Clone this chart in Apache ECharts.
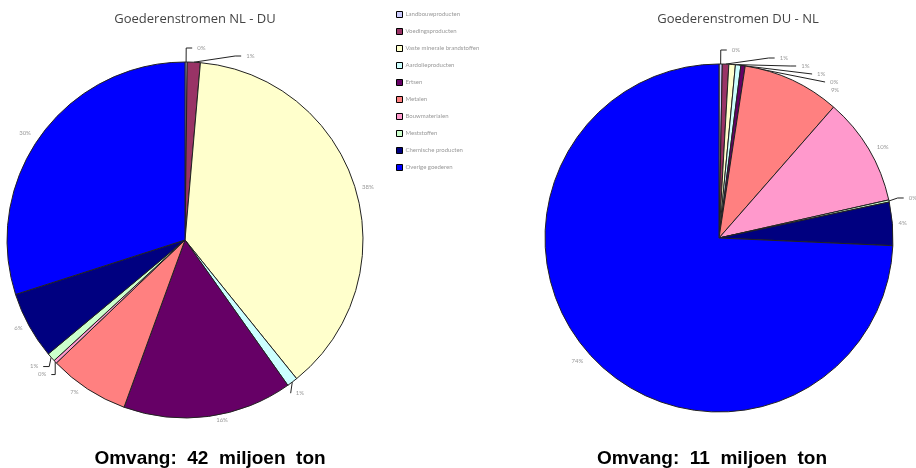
<!DOCTYPE html>
<html>
<head>
<meta charset="utf-8">
<script src="https://cdn.jsdelivr.net/npm/echarts@6/dist/echarts.min.js"></script>
<style>
  html, body { margin: 0; padding: 0; background: #fff; }
  #chart { width: 916px; height: 468px; }
</style>
</head>
<body>
<div id="chart"></div>
<script>
// goods categories (legend order = slice order, clockwise from 12 o'clock)
const categories = [
  'Landbouwproducten', 'Voedingsproducten', 'Vaste minerale brandstoffen',
  'Aardolieproducten', 'Ertsen', 'Metalen', 'Bouwmaterialen',
  'Meststoffen', 'Chemische producten', 'Overige goederen'
]
const colors = ['#CCCCFF', '#993366', '#FFFFCC', '#CCFFFF', '#660066',
  '#FF8080', '#FF99CC', '#CCFFCC', '#000080', '#0000FF']

// shares in %
const nlDu = [0.2, 1.2, 38.4, 1.0, 15.6, 7.4, 0.3, 0.8, 6.2, 30.4]
const duNl = [0.3, 0.6, 0.6, 0.5, 0.4, 9.0, 10.0, 0.2, 4.0, 74.0]

const titles = ['Goederenstromen NL - DU', 'Goederenstromen DU - NL']
const totals = ['Omvang:  42  miljoen  ton', 'Omvang:  11  miljoen  ton']

const chart = echarts.init(document.getElementById('chart'))

const buildData = (vals) =>
  vals.map((v, i) => {
    const small = v < 2
    return {
      name: categories[i],
      value: v,
      itemStyle: { color: colors[i] },
      labelLine: { show: small, length: small ? 14 : 4, length2: small ? 6 : 2 },
    }
  })

const pie = (vals, center, radius) => ({
  type: 'pie',
  center,
  radius,
  startAngle: 90,
  clockwise: true,
  animation: false,
  avoidLabelOverlap: true,
  data: buildData(vals),
  itemStyle: { borderColor: '#222', borderWidth: 1 },
  label: {
    show: true,
    position: 'outside',
    color: '#999',
    fontSize: 6,
    fontFamily: 'Lato',
    overflow: 'none',
    edgeDistance: 2,
    formatter: (p) => Math.round(p.value) + '%',
  },
  labelLine: { lineStyle: { color: '#222', width: 1 } },
  emphasis: { disabled: true },
})

const titleStyle = { fontFamily: 'Open Sans', fontSize: 13, fontWeight: 'normal', color: '#444' }
const totalStyle = { fontFamily: 'Liberation Sans', fontSize: 19, fontWeight: 'bold', color: '#000' }

chart.setOption({
  backgroundColor: '#fff',
  color: colors,
  title: [
    { text: titles[0], left: 190, top: 8, textAlign: 'center', textStyle: titleStyle },
    { text: titles[1], left: 733, top: 8, textAlign: 'center', textStyle: titleStyle },
    { text: totals[0], left: 205, top: 444, textAlign: 'center', textStyle: totalStyle },
    { text: totals[1], left: 707, top: 444, textAlign: 'center', textStyle: totalStyle },
  ],
  legend: {
    orient: 'vertical',
    left: 391,
    top: 6,
    itemWidth: 6,
    itemHeight: 6,
    itemGap: 10,
    icon: 'rect',
    data: categories,
    itemStyle: { borderColor: '#000', borderWidth: 1 },
    textStyle: { fontFamily: 'Lato', fontSize: 6, color: '#999', padding: [0, 0, 0, -2] },
  },
  series: [
    pie(nlDu, [185, 240], [0, 178]),
    pie(duNl, [719, 238], [0, 174]),
  ],
})
</script>
</body>
</html>
